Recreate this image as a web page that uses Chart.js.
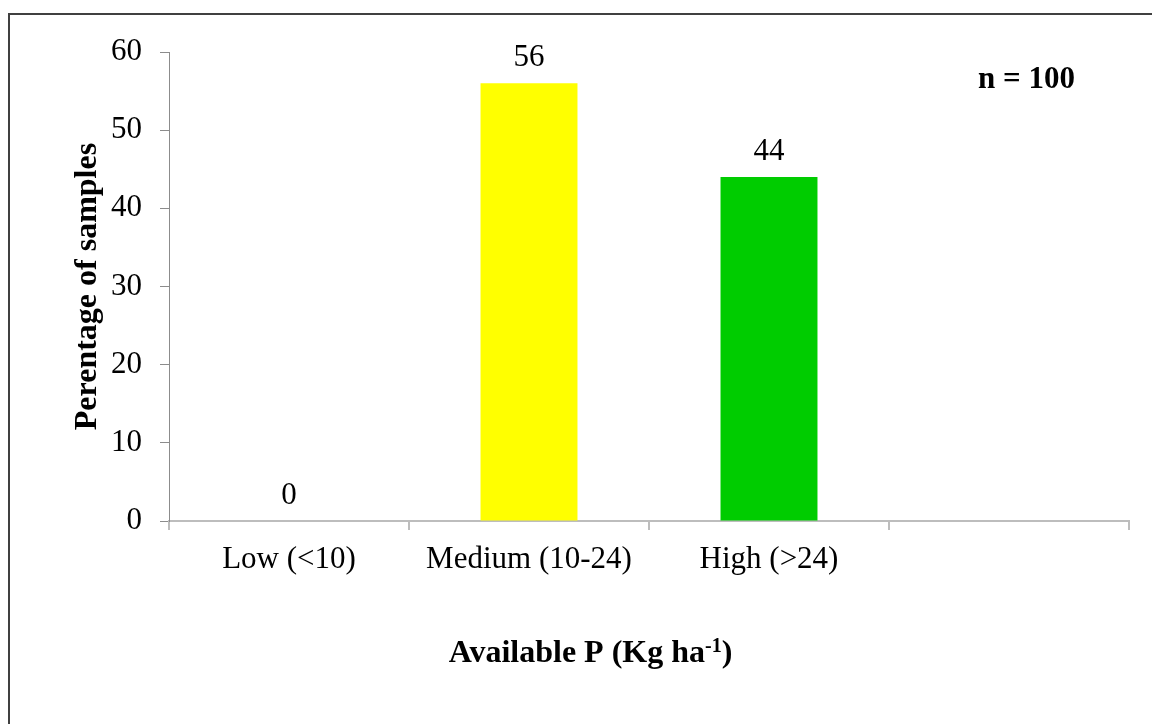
<!DOCTYPE html>
<html><head><meta charset="utf-8">
<script src="https://cdn.jsdelivr.net/npm/chart.js@4.4.1/dist/chart.umd.min.js"></script>
<style>html,body{margin:0;padding:0;background:#fff;}#wrap{width:1152px;height:724px;}</style>
</head><body><div id="wrap"><canvas id="c" width="1152" height="724"></canvas></div>
<script>
const categories = ['Low (<10)', 'Medium (10-24)', 'High (>24)', ''];
const percentages = [0, 56, 44, null];
const barColors = ['#FFFF00', '#FFFF00', '#00CC00', '#00CC00'];
const yTicks = [0, 10, 20, 30, 40, 50, 60];
const yTitle = 'Perentage of samples';
const xTitleMain = 'Available P (Kg ha';
const xTitleSup = '-1';
const xTitleEnd = ')';
const sampleNote = 'n = 100';

const FONT = 'Liberation Serif, Times New Roman, serif';

const framePlugin = {
  id: 'frame',
  beforeDraw(chart) {
    const ctx = chart.ctx;
    ctx.save();
    ctx.fillStyle = '#ffffff';
    ctx.fillRect(0, 0, chart.width, chart.height);
    ctx.strokeStyle = '#404040';
    ctx.lineWidth = 2;
    ctx.beginPath();
    ctx.moveTo(9, chart.height + 5);
    ctx.lineTo(9, 14);
    ctx.lineTo(chart.width + 5, 14);
    ctx.stroke();
    ctx.restore();
  }
};

const labelPlugin = {
  id: 'valueLabels',
  afterDatasetsDraw(chart) {
    const ctx = chart.ctx;
    const meta = chart.getDatasetMeta(0);
    ctx.save();
    ctx.font = '31px ' + FONT;
    ctx.fillStyle = '#000';
    ctx.textAlign = 'center';
    ctx.textBaseline = 'alphabetic';
    meta.data.forEach((bar, i) => {
      const v = percentages[i];
      if (v === null || v === undefined) return;
      ctx.fillText(String(v), bar.x, bar.y - 17);
    });
    ctx.restore();
  }
};

const textPlugin = {
  id: 'extraText',
  afterDraw(chart) {
    const ctx = chart.ctx;
    const area = chart.chartArea;
    ctx.save();
    ctx.fillStyle = '#000';
    ctx.textBaseline = 'alphabetic';
    // sample size note
    ctx.font = 'bold 31px ' + FONT;
    ctx.textAlign = 'left';
    ctx.fillText(sampleNote, area.right - 151, area.top + 36);
    // x axis title with superscript
    const mainFont = 'bold 32px ' + FONT;
    const supFont = 'bold 20px ' + FONT;
    ctx.font = mainFont;
    const w1 = ctx.measureText(xTitleMain).width;
    const w3 = ctx.measureText(xTitleEnd).width;
    ctx.font = supFont;
    const w2 = ctx.measureText(xTitleSup).width;
    const total = w1 + w2 + w3;
    const cx = area.left + 421.5;
    const baseY = area.bottom + 141;
    let x = cx - total / 2;
    ctx.font = mainFont;
    ctx.fillText(xTitleMain, x, baseY);
    x += w1;
    ctx.font = supFont;
    ctx.fillText(xTitleSup, x, baseY - 10);
    x += w2;
    ctx.font = mainFont;
    ctx.fillText(xTitleEnd, x, baseY);
    ctx.restore();
  }
};

new Chart(document.getElementById('c'), {
  type: 'bar',
  data: {
    labels: categories,
    datasets: [{
      data: percentages,
      backgroundColor: barColors,
      borderWidth: 0,
      categoryPercentage: 1,
      barPercentage: 0.404
    }]
  },
  options: {
    responsive: false,
    animation: false,
    devicePixelRatio: 1,
    layout: { padding: { top: 52, right: 23, left: 0, bottom: 0 } },
    plugins: { legend: { display: false }, tooltip: { enabled: false } },
    scales: {
      x: {
        offset: true,
        grid: { offset: true, drawOnChartArea: false, drawTicks: true, tickLength: 9, color: '#bdbdbd', lineWidth: 2 },
        border: { display: true, color: '#bdbdbd', width: 2 },
        ticks: { color: '#000', font: { family: FONT, size: 31 }, padding: 11, maxRotation: 0, autoSkip: false },
        afterFit(scale) { scale.height = 203; }
      },
      y: {
        min: yTicks[0],
        max: yTicks[yTicks.length - 1],
        afterBuildTicks(scale) { scale.ticks = yTicks.map(v => ({ value: v })); },
        grid: { drawOnChartArea: false, drawTicks: true, tickLength: 9, color: '#8c8c8c', lineWidth: 1 },
        border: { display: true, color: '#8c8c8c', width: 1 },
        ticks: { color: '#000', font: { family: FONT, size: 31 }, padding: 18 },
        title: { display: true, text: yTitle, color: '#000', font: { family: FONT, size: 32, weight: 'bold' }, padding: { top: 69, bottom: 0 } },
        afterFit(scale) { scale.width = 169; }
      }
    }
  },
  plugins: [framePlugin, labelPlugin, textPlugin]
});
</script>
</body></html>
